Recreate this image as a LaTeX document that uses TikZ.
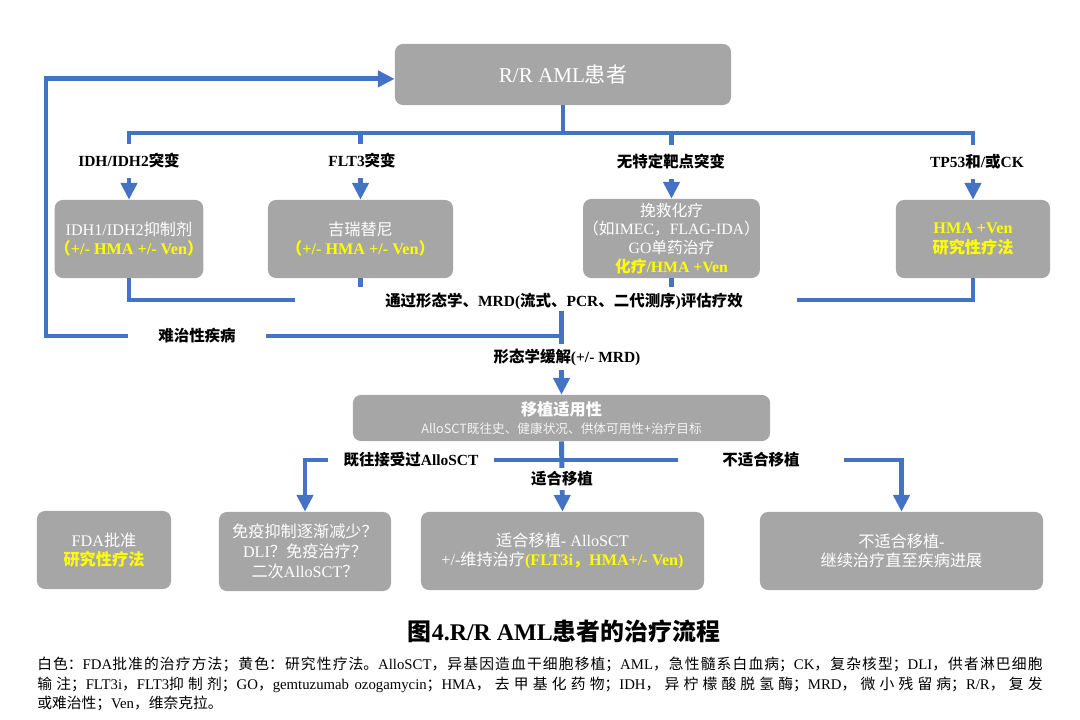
\documentclass[tikz,border=0pt]{standalone}
\usepackage{fontspec}
\usepackage{xcolor}
\usepackage{tikz}
\usetikzlibrary{arrows.meta}
\setmainfont{Liberation Serif}
\newfontfamily\cjk{Noto Sans CJK SC}
\definecolor{flowblue}{HTML}{4472C4}
\definecolor{boxgray}{HTML}{A6A6A6}
\definecolor{hlyellow}{HTML}{FFFF00}
\newcommand\hly[1]{{\color{hlyellow}\bfseries #1}}
% switch to the CJK family for Chinese runs
\newXeTeXintercharclass\zhclass
\newcount\zhcnt
\def\zhrange#1#2{\zhcnt=#1 \loop\ifnum\zhcnt<#2 \XeTeXcharclass\zhcnt=\zhclass \advance\zhcnt by 1 \repeat}
\zhrange{"3000}{"3040}
\zhrange{"4E00}{"A000}
\zhrange{"FF00}{"FFF0}
\def\latinfam{\rmfamily}
\XeTeXinterchartoks 0 \zhclass = {\cjk}
\XeTeXinterchartoks 4095 \zhclass = {\cjk}
\XeTeXinterchartoks \zhclass 0 = {\latinfam}
\XeTeXinterchartoks \zhclass 4095 = {\latinfam}
\XeTeXinterchartokenstate=1
\XeTeXlinebreaklocale "zh"
\XeTeXlinebreakskip=0pt plus 3pt
\begin{document}
\begin{tikzpicture}[x=0.025cm,y=-0.025cm,
  box/.style={rectangle,rounded corners=2mm,fill=boxgray,text=white,align=center,inner sep=0pt,font=\fontsize{11.5}{13.8}\selectfont},
  flow/.style={draw=flowblue,line width=3.5pt},
  arr/.style={-{Triangle[width=4mm,length=4.2mm]}},
  lab/.style={font=\bfseries\fontsize{11}{13}\selectfont,inner sep=1pt},
  gap/.style={lab,fill=white}]
\useasboundingbox (0,0) rectangle (1080,720);

\node[box,minimum width=84mm,minimum height=15.25mm,font=\fontsize{15}{18}\selectfont] (top) at (563,74.5) {R/R AML患者};

\node[box,minimum width=37mm,minimum height=19.5mm] (b1) at (129,239) {IDH1/IDH2抑制剂\\\hly{（+/- HMA +/- Ven）}};
\node[box,minimum width=46.25mm,minimum height=19.5mm] (b2) at (360.5,239) {吉瑞替尼\\\hly{（+/- HMA +/- Ven）}};
\node[box,minimum width=42.75mm,minimum height=19.75mm,font=\fontsize{11.2}{13.4}\selectfont] (b3) at (671.5,238.5) {挽救化疗\\（如IMEC，FLAG-IDA）\\GO单药治疗\\\hly{化疗/HMA +Ven}};
\node[box,minimum width=38.5mm,minimum height=19.5mm] (b4) at (973,239) {\hly{HMA +Ven}\\\hly{研究性疗法}};

\node[box,minimum width=104.25mm,minimum height=11.5mm] (b5) at (561.5,418) {\bfseries 移植适用性\\[-1pt]{\fontsize{9}{11}\selectfont\color{white!88!boxgray}\def\latinfam{\cjk}\cjk AlloSCT既往史、健康状况、供体可用性+治疗目标}};

\node[box,minimum width=33.5mm,minimum height=19.5mm] (c1) at (104,550) {FDA批准\\\hly{研究性疗法}};
\node[box,minimum width=43mm,minimum height=19.75mm,font=\fontsize{11.5}{14.4}\selectfont] (c2) at (305,551.5) {免疫抑制逐渐减少？\\DLI？免疫治疗？\\二次AlloSCT？};
\node[box,minimum width=70.75mm,minimum height=19.5mm] (c3) at (562.5,551) {适合移植- AlloSCT\\+/-维持治疗\hly{(FLT3i，HMA+/- Ven)}};
\node[box,minimum width=70.75mm,minimum height=19.5mm] (c4) at (901.5,551) {不适合移植-\\继续治疗直至疾病进展};

\coordinate (jt) at (563,133);
\coordinate (fl) at (295,300);
\coordinate (fr) at (797,300);
\coordinate (jr) at (561.5,336);
\coordinate (lc) at (46,336);
\coordinate (jb) at (561.5,460);

\draw[flow] (top.south) -- (jt);
\draw[flow,arr] (jt) -| (b1.north);
\draw[flow,arr] (jt) -| (b4.north);
\draw[flow,arr] (jt -| b2.north) -- (b2.north);
\draw[flow,arr] (jt -| b3.north) -- (b3.north);

\draw[flow] (b1.south) |- (fl);
\draw[flow] (b4.south) |- (fr);
\draw[flow] (b2.south) -- ++(0,9);
\draw[flow] (b3.south) -- ++(0,9);
\node[lab] (eval) at (564,301) {通过形态学、MRD(流式、PCR、二代测序)评估疗效};

\draw[flow,arr] (eval.south -| b5.north) -- (b5.north);
\draw[flow,arr] (jr) -- (lc) |- ([yshift=-1.1mm]top.west);

\draw[flow,arr] (b5.south) -- (c3.north);
\draw[flow,arr] (jb) -| (c2.north);
\draw[flow,arr] (jb) -| (c4.north);

\node[gap,inner ysep=2.5mm] (lidh) at (129,161) {IDH/IDH2突变};
\node[gap,inner ysep=2.5mm] (lflt) at (362,161) {FLT3突变};
\node[gap,inner ysep=2.5mm] (lnon) at (671,162) {无特定靶点突变};
\node[gap,inner ysep=2.5mm] (ltp) at (977,162) {TP53和/或CK};
\node[gap,inner xsep=7.5mm] (lref) at (197,336) {难治性疾病};
\node[gap,inner ysep=1.2mm] (lrem) at (567,357) {形态学缓解(+/- MRD)};
\node[gap,inner xsep=3.8mm] (lprev) at (411,460) {既往接受过AlloSCT};
\node[gap,inner ysep=1mm] (lfit) at (562,479) {适合移植};
\node[gap,inner xsep=11mm] (lunfit) at (761,460) {不适合移植};

\node[font=\bfseries\fontsize{17}{20}\selectfont] (cap) at (564,631) {图4.R/R AML患者的治疗流程};
\node[anchor=north west,text width=251.25mm,align=justify,inner sep=0pt,font=\fontsize{10.5}{13.9}\selectfont] (note) at (37,657) {白色：FDA批准的治疗方法；黄色：研究性疗法。AlloSCT，异基因造血干细胞移植；AML，急性髓系白血病；CK，复杂核型；DLI，供者淋巴细胞\linebreak 输注；FLT3i，FLT3抑制剂；GO，gemtuzumab ozogamycin；HMA，去甲基化药物；IDH，异柠檬酸脱氢酶；MRD，微小残留病；\mbox{R/R}，复发\linebreak 或难治性；Ven，维奈克拉。};
\end{tikzpicture}
\end{document}
